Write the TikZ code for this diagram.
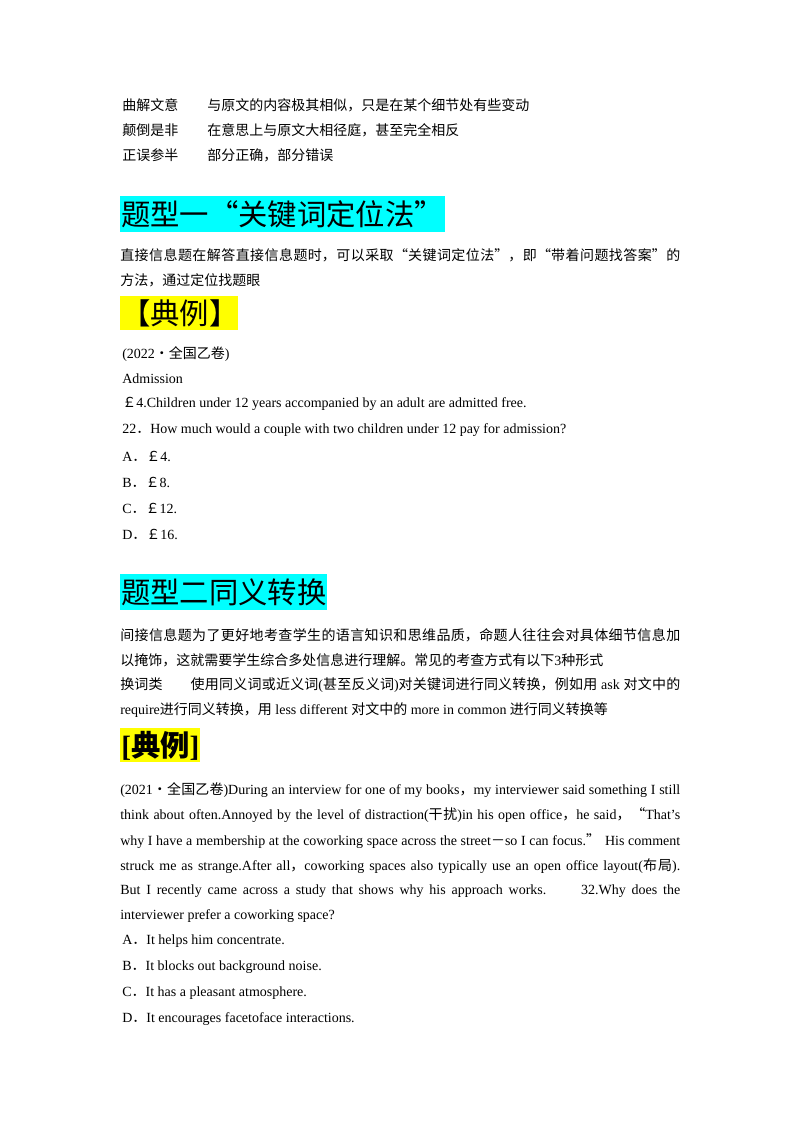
\documentclass[tikz,border=0pt]{standalone}
\usepackage{fontspec}
\setmainfont{Liberation Serif}
\newfontfamily\cjk{Noto Sans CJK SC}
\newcommand{\cj}[1]{{\cjk #1}}
\XeTeXlinebreaklocale "zh"
\XeTeXlinebreakskip=0pt plus 1pt
\definecolor{hcyan}{RGB}{0,255,255}
\definecolor{hyel}{RGB}{255,255,0}
\newcommand{\jline}[1]{\parbox{420pt}{\parfillskip=0pt\relax #1}}
\tikzset{ln/.style={anchor=west,inner sep=0pt,font=\fontsize{10.5pt}{12pt}\selectfont},
hd/.style={anchor=west,inner sep=0pt,font=\fontsize{22pt}{26pt}\selectfont\cjk}}
\begin{document}
\begin{tikzpicture}[x=0.75pt,y=-0.75pt]
\useasboundingbox (0,0) rectangle (800,1132);
\node[ln] (a1) at (122,105) {\cj{曲解文意}};
\node[ln] (b1) at (207,105) {\cj{与原文的内容极其相似，只是在某个细节处有些变动}};
\node[ln] (a2) at (122,130) {\cj{颠倒是非}};
\node[ln] (b2) at (207,130) {\cj{在意思上与原文大相径庭，甚至完全相反}};
\node[ln] (a3) at (122,155) {\cj{正误参半}};
\node[ln] (b3) at (207,155) {\cj{部分正确，部分错误}};
\fill[hcyan] (120,196) rectangle (445,232);
\node[hd] (h1) at (121,214) {题型一“关键词定位法”};
\node[ln] (p1) at (120,255) {\jline{\cj{直接信息题在解答直接信息题时，可以采取“关键词定位法”，即“带着问题找答案”的}}};
\node[ln] (p2) at (120,280) {\cj{方法，通过定位找题眼}};
\fill[hyel] (120,296) rectangle (238,330);
\node[hd] (h2) at (121,313) {【典例】};
\node[ln] (e1) at (122,354) {(2022\cj{·}\cj{全国乙卷})};
\node[ln] (e2) at (122,379) {Admission};
\node[ln] (e3) at (122,404) {\cj{￡}4.Children under 12 years accompanied by an adult are admitted free.};
\node[ln] (e4) at (122,430) {22\cj{．}How much would a couple with two children under 12 pay for admission?};
\node[ln] (oA) at (122,456) {A\cj{．￡}4.};
\node[ln] (oB) at (122,482) {B\cj{．￡}8.};
\node[ln] (oC) at (122,508) {C\cj{．￡}12.};
\node[ln] (oD) at (122,534) {D\cj{．￡}16.};
\fill[hcyan] (120,574) rectangle (327,610);
\node[hd] (h3) at (121,592) {题型二同义转换};
\node[ln] (q1) at (120,635) {\jline{\cj{间接信息题为了更好地考查学生的语言知识和思维品质，命题人往往会对具体细节信息加}}};
\node[ln] (q2) at (120,660) {\cj{以掩饰，这就需要学生综合多处信息进行理解。常见的考查方式有以下}3\cj{种形式}};
\node[ln] (q3) at (120,685) {\jline{\cj{换词类\hspace{2em}使用同义词或近义词}(\cj{甚至反义词})\cj{对关键词进行同义转换，例如用} ask \cj{对文中的}}};
\node[ln] (q4) at (120,710) {require\cj{进行同义转换，用} less different \cj{对文中的} more in common \cj{进行同义转换等}};
\fill[hyel] (120,728) rectangle (200,762);
\node[anchor=west,inner sep=0pt,font=\fontsize{22pt}{26pt}\selectfont\bfseries] (h4) at (121,746) {[\cj{\bfseries 典例}]};
\node[ln] (r1) at (120,790) {\jline{(2021\cj{·全国乙卷})During an interview for one of my books\cj{，}my interviewer said something I still}};
\node[ln] (r2) at (120,815) {\jline{think about often.Annoyed by the level of distraction(\cj{干扰})in his open office\cj{，}he said\cj{，}\cj{“}That's}};
\node[ln] (r3) at (120,841) {\jline{why I have a membership at the coworking space across the street\cj{－}so I can focus.\cj{”} His comment}};
\node[ln] (r4) at (120,866) {\jline{struck me as strange.After all\cj{，}coworking spaces also typically use an open office layout(\cj{布局}).}};
\node[ln] (r5) at (120,891) {\jline{But I recently came across a study that shows why his approach works. \ \ \ \ 32.Why does the}};
\node[ln] (r6) at (120,916) {interviewer prefer a coworking space?};
\node[ln] (sA) at (122,941) {A\cj{．}It helps him concentrate.};
\node[ln] (sB) at (122,967) {B\cj{．}It blocks out background noise.};
\node[ln] (sC) at (122,993) {C\cj{．}It has a pleasant atmosphere.};
\node[ln] (sD) at (122,1019) {D\cj{．}It encourages facetoface interactions.};
\end{tikzpicture}
\end{document}
